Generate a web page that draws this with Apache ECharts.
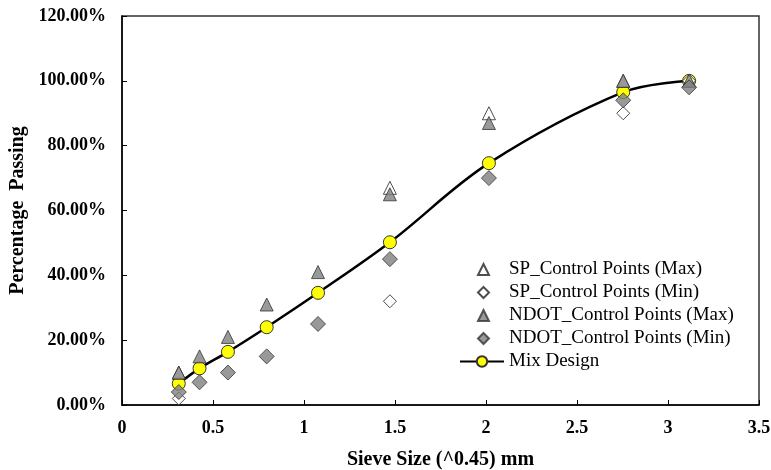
<!DOCTYPE html>
<html>
<head>
<meta charset="utf-8">
<script src="https://cdn.jsdelivr.net/npm/echarts@6/dist/echarts.min.js"></script>
<style>html,body{margin:0;padding:0;background:#fff;}#c{width:771px;height:470px;}</style>
</head>
<body>
<div id="c"></div>
<script>
// Sieve sizes raised to 0.45 power
const spMaxX = [0.312, 1.472, 2.016, 2.754, 3.116];
const spMaxY = [10, 67, 90, 100, 100];
const spMinX = [0.312, 1.472, 2.754, 3.116];
const spMinY = [2, 32, 90, 100];
const ndotMaxX = [0.312, 0.426, 0.582, 0.795, 1.077, 1.472, 2.016, 2.754, 3.116];
const ndotMaxY = [10, 15, 21, 31, 41, 65, 87, 100, 100];
const ndotMinX = [0.312, 0.426, 0.582, 0.795, 1.077, 1.472, 2.016, 2.754, 3.116];
const ndotMinY = [4, 7, 10, 15, 25, 45, 70, 94, 98];
const mixX = [0.312, 0.426, 0.582, 0.795, 1.077, 1.472, 2.016, 2.754, 3.116];
const mixY = [6.6, 11.3, 16.4, 24.0, 34.6, 50.2, 74.6, 96.5, 100];
const scatterNames = ['SP_Control Points (Max)', 'SP_Control Points (Min)', 'NDOT_Control Points (Max)', 'NDOT_Control Points (Min)'];
const lineName = 'Mix Design';

const zip = (xs, ys) => xs.map((x, i) => [x, ys[i]]);
const serif = "'Liberation Serif', 'Times New Roman', serif";
const legendText = {fontFamily: serif, fontSize: 19, color: '#000'};

const chart = echarts.init(document.getElementById('c'), null, {renderer: 'canvas'});
chart.setOption({
  animation: false,
  backgroundColor: '#fff',
  grid: {left: 122, width: 637, top: 16, height: 389, outerBoundsMode: 'none', containLabel: false,
    show: true, borderColor: '#333', borderWidth: 1.5, backgroundColor: 'transparent'},
  xAxis: {
    type: 'value', min: 0, max: 3.5, interval: 0.5,
    name: 'Sieve Size (^0.45) mm', nameLocation: 'middle', nameGap: 45,
    nameTextStyle: {fontFamily: serif, fontWeight: 'bold', fontSize: 20, color: '#000'},
    axisLine: {show: true, onZero: false, lineStyle: {color: '#000', width: 1.5}},
    axisTick: {show: true, inside: true, length: 5, lineStyle: {color: '#000'}},
    splitLine: {show: false},
    axisLabel: {fontFamily: serif, fontWeight: 'bold', fontSize: 18, color: '#000', margin: 14,
      formatter: v => String(Math.round(v * 10) / 10)}
  },
  yAxis: {
    type: 'value', min: 0, max: 120, interval: 20,
    name: 'Percentage  Passing', nameLocation: 'middle', nameGap: 87, nameRotate: 90,
    nameTextStyle: {fontFamily: serif, fontWeight: 'bold', fontSize: 20, color: '#000'},
    axisLine: {show: true, onZero: false, lineStyle: {color: '#000', width: 1.5}},
    axisTick: {show: true, inside: true, length: 5, lineStyle: {color: '#000'}},
    splitLine: {show: false},
    axisLabel: {fontFamily: serif, fontWeight: 'bold', fontSize: 18, color: '#000', margin: 16,
      formatter: v => v.toFixed(2) + '%'}
  },
  legend: [
    {
      orient: 'vertical', left: 472, top: 255, itemGap: 4, itemWidth: 11, itemHeight: 11,
      textStyle: Object.assign({padding: [0, 0, 0, 15]}, legendText),
      data: scatterNames
    },
    {
      orient: 'vertical', left: 454, top: 347, itemWidth: 44, itemHeight: 13,
      textStyle: legendText,
      data: [lineName]
    }
  ],
  series: [
    {name: lineName, type: 'line', smooth: 0.35, symbol: 'circle', symbolSize: 13, showSymbol: true, z: 2,
      lineStyle: {color: '#000', width: 2.5},
      itemStyle: {color: '#ffff00', borderColor: '#333', borderWidth: 1}, data: zip(mixX, mixY)},
    {name: scatterNames[0], type: 'scatter', symbol: 'triangle', symbolSize: 13, z: 3,
      itemStyle: {color: '#fff', borderColor: '#222', borderWidth: 1}, data: zip(spMaxX, spMaxY)},
    {name: scatterNames[1], type: 'scatter', symbol: 'diamond', symbolSize: 13, z: 3,
      itemStyle: {color: '#fff', borderColor: '#222', borderWidth: 1}, data: zip(spMinX, spMinY)},
    {name: scatterNames[2], type: 'scatter', symbol: 'triangle', symbolSize: 13, z: 4,
      itemStyle: {color: '#808080', borderColor: '#333', borderWidth: 1}, data: zip(ndotMaxX, ndotMaxY)},
    {name: scatterNames[3], type: 'scatter', symbol: 'diamond', symbolSize: 15, z: 4,
      itemStyle: {color: '#808080', borderColor: '#333', borderWidth: 1}, data: zip(ndotMinX, ndotMinY)}
  ]
});
</script>
</body>
</html>
